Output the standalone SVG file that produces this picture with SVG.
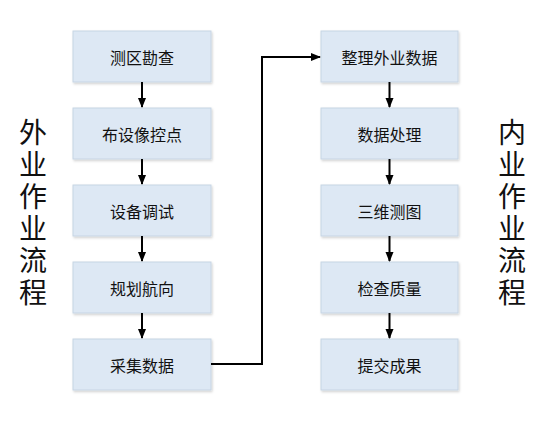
<svg xmlns="http://www.w3.org/2000/svg" width="555" height="427" viewBox="0 0 555 427">
<defs>
<marker id="ah" markerWidth="10" markerHeight="10" refX="9" refY="5" orient="auto" markerUnits="userSpaceOnUse">
<path d="M0,1 L10,5 L0,9 Z" fill="#000"/>
</marker>
<filter id="sh" x="-10%" y="-10%" width="130%" height="130%">
<feDropShadow dx="1" dy="1.5" stdDeviation="1" flood-color="#000" flood-opacity="0.18"/>
</filter>
</defs>
<style>
.box{fill:#dde8f4;stroke:#c6d5e4;stroke-width:1;filter:url(#sh)}
.t{font-family:"Noto Sans CJK SC","Noto Sans",sans-serif;font-size:16px;fill:#111;text-anchor:middle;dominant-baseline:central}
.v{font-family:"Noto Sans CJK SC","Noto Sans",sans-serif;font-size:28px;fill:#111;writing-mode:vertical-rl;letter-spacing:4px}
.c{stroke:#000;stroke-width:2;fill:none}
</style>
<rect width="555" height="427" fill="#fff"/>
<g id="n1"><rect class="box" x="73" y="31" width="138" height="51"/><text class="t" x="142" y="56.5">测区勘查</text></g>
<g id="n2"><rect class="box" x="73" y="108" width="138" height="51"/><text class="t" x="142" y="133.5">布设像控点</text></g>
<g id="n3"><rect class="box" x="73" y="185" width="138" height="51"/><text class="t" x="142" y="210.5">设备调试</text></g>
<g id="n4"><rect class="box" x="73" y="262" width="138" height="51"/><text class="t" x="142" y="287.5">规划航向</text></g>
<g id="n5"><rect class="box" x="73" y="339" width="138" height="51"/><text class="t" x="142" y="364.5">采集数据</text></g>
<g id="m1"><rect class="box" x="321" y="31" width="137" height="51"/><text class="t" x="389.5" y="56.5">整理外业数据</text></g>
<g id="m2"><rect class="box" x="321" y="108" width="137" height="51"/><text class="t" x="389.5" y="133.5">数据处理</text></g>
<g id="m3"><rect class="box" x="321" y="185" width="137" height="51"/><text class="t" x="389.5" y="210.5">三维测图</text></g>
<g id="m4"><rect class="box" x="321" y="262" width="137" height="51"/><text class="t" x="389.5" y="287.5">检查质量</text></g>
<g id="m5"><rect class="box" x="321" y="339" width="137" height="51"/><text class="t" x="389.5" y="364.5">提交成果</text></g>
<g id="label-left"><text class="v" x="33" y="118">外业作业流程</text></g>
<g id="label-right"><text class="v" x="512" y="118">内业作业流程</text></g>
<g id="connectors">
<line class="c" x1="142" y1="82" x2="142" y2="107" marker-end="url(#ah)"/>
<line class="c" x1="142" y1="159" x2="142" y2="184" marker-end="url(#ah)"/>
<line class="c" x1="142" y1="236" x2="142" y2="261" marker-end="url(#ah)"/>
<line class="c" x1="142" y1="313" x2="142" y2="338" marker-end="url(#ah)"/>
<line class="c" x1="389.5" y1="82" x2="389.5" y2="107" marker-end="url(#ah)"/>
<line class="c" x1="389.5" y1="159" x2="389.5" y2="184" marker-end="url(#ah)"/>
<line class="c" x1="389.5" y1="236" x2="389.5" y2="261" marker-end="url(#ah)"/>
<line class="c" x1="389.5" y1="313" x2="389.5" y2="338" marker-end="url(#ah)"/>
<polyline class="c" points="211,364 262,364 262,57 320,57" marker-end="url(#ah)"/>
</g>
</svg>
